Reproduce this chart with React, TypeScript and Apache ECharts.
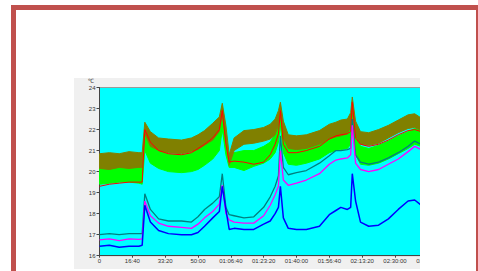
import React, { useEffect, useRef } from 'react';
import * as echarts from 'echarts';

// time in seconds from start
const times = [
  0, 300, 600, 900, 1200,
  1300, 1380, 1550, 1800, 2100,
  2500, 2800, 3000, 3200, 3450,
  3650, 3740, 3850, 3950, 4100,
  4400, 4700, 5000, 5200, 5350,
  5450, 5510, 5600, 5750, 6000,
  6300, 6700, 7000, 7200, 7350,
  7550, 7650, 7700, 7800, 7950,
  8200, 8500, 8800, 9100, 9400,
  9600, 9800, 10000,
];

const blueValues = [
  16.45, 16.5, 16.4, 16.45, 16.45,
  16.5, 18.4, 17.6, 17.2, 17.05,
  17.0, 17.0, 17.1, 17.4, 17.8,
  18.1, 19.3, 18.2, 17.25, 17.3,
  17.25, 17.25, 17.5, 17.65, 18.0,
  18.3, 19.3, 17.8, 17.3, 17.25,
  17.25, 17.4, 17.95, 18.15, 18.3,
  18.2, 18.3, 19.9, 18.6, 17.6,
  17.4, 17.45, 17.75, 18.2, 18.6,
  18.65, 18.4, 18.3,
];

const magentaValues = [
  16.75, 16.8, 16.72, 16.8, 16.78,
  16.8, 18.6, 17.9, 17.55, 17.4,
  17.35, 17.3, 17.5, 17.8, 18.1,
  18.45, 19.35, 18.0, 17.7, 17.6,
  17.55, 17.55, 17.9, 18.4, 18.9,
  19.3, 21.0, 19.6, 19.35, 19.45,
  19.6, 19.9, 20.35, 20.55, 20.6,
  20.65, 20.8, 22.2, 20.4, 20.1,
  20.0, 20.1, 20.35, 20.6, 20.95,
  21.2, 21.05, 20.9,
];

const tealValues = [
  17.0, 17.05, 17.0, 17.05, 17.05,
  17.05, 18.95, 18.2, 17.75, 17.65,
  17.65, 17.6, 17.85, 18.2, 18.5,
  18.8, 19.9, 18.3, 17.95, 17.9,
  17.8, 17.85, 18.3, 18.8, 19.3,
  19.8, 21.7, 20.2, 19.85, 19.95,
  20.05, 20.4, 20.75, 21.0, 21.0,
  21.05, 21.1, 22.5, 20.8, 20.45,
  20.35, 20.45, 20.65, 20.9, 21.2,
  21.45, 21.3, 21.2,
];

const redValues = [
  19.3, 19.4, 19.45, 19.5, 19.5,
  19.5, 22.0, 21.4, 21.0, 20.85,
  20.8, 20.9, 21.1, 21.3, 21.6,
  22.0, 22.9, 21.3, 20.45, 20.5,
  20.45, 20.35, 20.45, 20.8, 21.3,
  21.8, 22.9, 21.3, 20.9, 20.9,
  21.0, 21.2, 21.55, 21.7, 21.75,
  21.8, 21.9, 23.3, 21.6, 21.3,
  21.2, 21.3, 21.5, 21.75, 21.95,
  22.0, 21.9, 21.8,
];

const oliveLow = [
  20.15, 20.1, 20.2, 20.15, 20.2,
  20.2, 21.8, 21.2, 21.0, 20.9,
  20.85, 20.95, 21.05, 21.25, 21.5,
  21.9, 22.7, 21.5, 20.3, 21.0,
  21.3, 21.35, 21.45, 21.55, 21.75,
  22.2, 22.7, 21.6, 21.1, 21.05,
  21.1, 21.3, 21.55, 21.65, 21.7,
  21.8, 22.1, 22.9, 21.7, 21.3,
  21.25, 21.35, 21.6, 21.85, 22.05,
  22.1, 21.95, 21.8,
];

const oliveHigh = [
  20.85, 20.9, 20.85, 20.95, 20.9,
  20.9, 22.35, 21.9, 21.6, 21.55,
  21.5, 21.6, 21.75, 21.95, 22.3,
  22.6, 23.25, 22.2, 20.8, 21.6,
  21.95, 22.0, 22.1, 22.25, 22.5,
  22.9, 23.3, 22.4, 21.75, 21.7,
  21.75, 21.95, 22.25, 22.35, 22.45,
  22.5, 22.8, 23.55, 22.4, 21.9,
  21.85, 22.0, 22.2, 22.45, 22.7,
  22.75, 22.55, 22.4,
];

const greenLow = [
  19.4, 19.45, 19.5, 19.5, 19.45,
  19.4, 21.0, 20.4, 20.15, 20.0,
  19.95, 20.0, 20.1, 20.3, 20.6,
  21.0, 22.0, 20.8, 20.2, 20.2,
  20.05, 20.25, 20.4, 20.6, 20.9,
  21.4, 22.2, 20.9, 20.35, 20.3,
  20.4, 20.6, 20.9, 21.0, 21.05,
  21.1, 21.3, 22.3, 20.8, 20.35,
  20.3, 20.4, 20.6, 20.85, 21.1,
  21.3, 21.2, 21.05,
];

const greenHigh = [
  20.25, 20.3, 20.3, 20.35, 20.4,
  20.4, 21.9, 21.3, 21.0, 20.85,
  20.8, 20.9, 21.1, 21.3, 21.6,
  22.0, 23.0, 21.6, 20.6, 20.9,
  21.0, 21.0, 21.2, 21.4, 21.8,
  22.2, 23.0, 21.8, 21.3, 21.2,
  21.3, 21.5, 21.7, 21.8, 21.85,
  21.95, 22.2, 23.2, 21.7, 21.2,
  21.1, 21.25, 21.45, 21.7, 21.9,
  22.05, 21.95, 21.8,
];

const xTickLabels = [
  '0', '16:40', '33:20', '50:00', '01:06:40', '01:23:20',
  '01:40:00', '01:56:40', '02:13:20', '02:30:00', '02:46:40',
];

const FONT = 'Liberation Sans';

export default function App() {
  const ref = useRef<HTMLDivElement>(null);

  useEffect(() => {
    if (!ref.current) return;
    const chart = echarts.init(ref.current, null, { renderer: 'svg' });
    const pairs = (arr: number[]) => times.map((t, i) => [t, arr[i]]);

    const band = (name: string, lo: number[], hi: number[], color: string) => ({
      name,
      type: 'custom',
      data: pairs(hi),
      silent: true,
      clip: true,
      renderItem: (params: any, api: any) => {
        if (params.dataIndex !== 0) return null;
        const top = times.map((t, i) => api.coord([t, hi[i]]));
        const bottom = times.map((t, i) => api.coord([t, lo[i]])).reverse();
        return {
          type: 'polygon',
          shape: { points: top.concat(bottom) },
          style: { fill: color, stroke: color, lineWidth: 1 },
        };
      },
    });

    const line = (name: string, arr: number[], color: string, width: number) => ({
      name,
      type: 'line',
      data: pairs(arr),
      symbol: 'none',
      lineStyle: { width, color },
      silent: true,
    });

    chart.setOption({
      animation: false,
      textStyle: { fontFamily: FONT },
      grid: {
        left: 25.5,
        top: 8.5,
        right: 46.2,
        bottom: 13.3,
        show: true,
        backgroundColor: '#00ffff',
        borderColor: '#9a9a9a',
        borderWidth: 1,
      },
      xAxis: {
        type: 'value',
        min: 0,
        max: 10000,
        interval: 1000,
        axisLine: { show: true, onZero: false, lineStyle: { color: '#444', width: 1 } },
        axisTick: { show: true, length: 2, lineStyle: { color: '#444' } },
        axisLabel: {
          fontSize: 6,
          margin: 2,
          color: '#333',
          fontFamily: FONT,
          formatter: (v: number) => xTickLabels[Math.round(v / 1000)] ?? '',
        },
        splitLine: { show: false },
      },
      yAxis: {
        type: 'value',
        min: 16,
        max: 24,
        interval: 1,
        name: '℃',
        nameLocation: 'end',
        nameGap: 3.5,
        nameTextStyle: {
          fontSize: 6,
          color: '#333',
          align: 'right',
          verticalAlign: 'bottom',
          padding: [0, 6, 0, 0],
          fontFamily: FONT,
        },
        axisLine: { show: true, lineStyle: { color: '#444', width: 1 } },
        axisTick: { show: true, length: 3, lineStyle: { color: '#444' } },
        axisLabel: { fontSize: 6, margin: 4, color: '#333', fontFamily: FONT },
        splitLine: { show: false },
      },
      series: [
        band('green', greenLow, greenHigh, '#00ff00'),
        band('olive', oliveLow, oliveHigh, '#808000'),
        line('red', redValues, '#ff0000', 1),
        line('teal', tealValues, '#008080', 1.3),
        line('magenta', magentaValues, '#ff00ff', 1.3),
        line('blue', blueValues, '#0000ff', 1.5),
      ],
    });
    return () => chart.dispose();
  }, []);

  return (
    <div
      style={{
        position: 'fixed',
        left: 0,
        top: 0,
        width: 478,
        height: 271,
        background: '#ffffff',
        overflow: 'hidden',
      }}
    >
      <div
        style={{
          position: 'absolute',
          left: 11,
          top: 5,
          width: 470,
          height: 300,
          border: '5px solid #c0504d',
          boxSizing: 'border-box',
        }}
      />
      <div
        style={{
          position: 'absolute',
          left: 74,
          top: 78,
          width: 346,
          height: 191,
          overflow: 'hidden',
          background: '#f0f0f0',
        }}
      >
        <div ref={ref} style={{ width: 400, height: 191 }} />
      </div>
    </div>
  );
}
